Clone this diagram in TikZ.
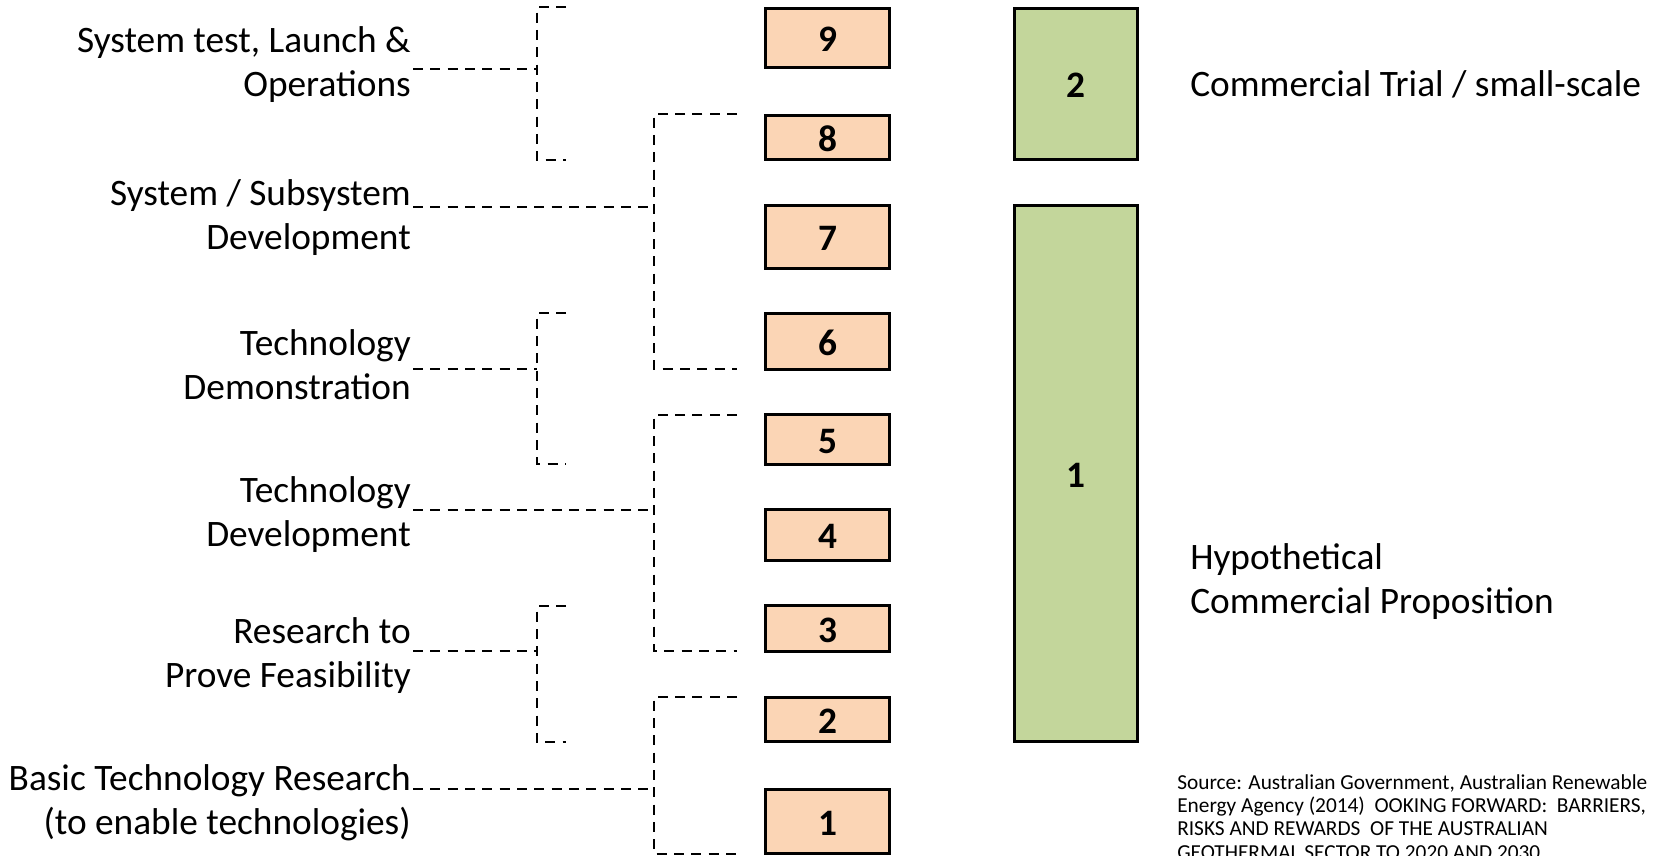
\documentclass[tikz,border=0pt]{standalone}
\usepackage{fontspec}
\setmainfont{Carlito}
\definecolor{peach}{HTML}{FBD5B5}
\definecolor{sage}{HTML}{C3D69B}
% right- and left-aligned line stacks, aligned on the first line's baseline
\newcommand\rstack[1]{\begin{tabular}[t]{@{}r@{}}#1\end{tabular}}
\newcommand\lstack[1]{\begin{tabular}[t]{@{}l@{}}#1\end{tabular}}
\begin{document}
\begin{tikzpicture}[x=0.75pt,y=-0.75pt,
  levelbox/.style={draw=black,line width=2.25pt,inner sep=0pt,
    text height=20.5pt,text depth=0pt,
    font=\bfseries\fontsize{28}{33}\selectfont},
  trlbox/.style={levelbox,fill=peach,minimum width=93pt},
  crlbox/.style={levelbox,fill=sage,minimum width=92.25pt},
  stagelbl/.style={inner sep=0pt,anchor=base east,font=\fontsize{28}{33}\selectfont},
  crllbl/.style={inner sep=0pt,anchor=base west,font=\fontsize{28}{33}\selectfont},
  srclbl/.style={inner sep=0pt,anchor=base west,font=\fontsize{16}{17.5}\selectfont},
  dashln/.style={line width=1.75pt,dash pattern=on 7.5pt off 5.5pt},
]
\useasboundingbox (0,0) rectangle (1654,856);

% technology readiness levels
\node[trlbox,minimum height=59*0.75pt] (t9) at (827.5,38)    {9};
\node[trlbox,minimum height=44*0.75pt] (t8) at (827.5,137.5) {8};
\node[trlbox,minimum height=63*0.75pt] (t7) at (827.5,237)   {7};
\node[trlbox,minimum height=56*0.75pt] (t6) at (827.5,341.5) {6};
\node[trlbox,minimum height=50*0.75pt] (t5) at (827.5,439.5) {5};
\node[trlbox,minimum height=51*0.75pt] (t4) at (827.5,535)   {4};
\node[trlbox,minimum height=46*0.75pt] (t3) at (827.5,628.5) {3};
\node[trlbox,minimum height=44*0.75pt] (t2) at (827.5,719.5) {2};
\node[trlbox,minimum height=64*0.75pt] (t1) at (827.5,821.5) {1};

% commercial readiness levels
\node[crlbox,minimum height=151*0.75pt] (c2) at (1076,84)    {2};
\node[crlbox,minimum height=536*0.75pt] (c1) at (1076,473.5) {1};

\node[crllbl] (c2l) at (1190,97) {Commercial Trial / small-scale};
\node[crllbl] (c1l) at (1190,569) {\lstack{Hypothetical\\Commercial Proposition}};

% stage labels
\node[stagelbl] (sA) at (411,53)  {\rstack{System test, Launch \&\\Operations}};
\node[stagelbl] (sB) at (411,205) {\rstack{System / Subsystem\\Development}};
\node[stagelbl] (sC) at (411,355) {\rstack{Technology\\Demonstration}};
\node[stagelbl] (sD) at (411,502) {\rstack{Technology\\Development}};
\node[stagelbl] (sE) at (411,643) {\rstack{Research to\\Prove Feasibility}};
\node[stagelbl] (sF) at (411,790) {\rstack{Basic Technology Research\\(to enable technologies)}};

% bracket spines and their joints
\coordinate (jA) at (537,69);  \coordinate (jB) at (654,207);
\coordinate (jC) at (537,369); \coordinate (jD) at (654,510);
\coordinate (jE) at (537,651); \coordinate (jF) at (654,789);

\draw[dashln] (566,7)   -- (537,7)   -- (537,160) -- (566,160);
\draw[dashln] (737,114) -- (654,114) -- (654,369) -- (737,369);
\draw[dashln] (566,313) -- (537,313) -- (537,464) -- (566,464);
\draw[dashln] (737,415) -- (654,415) -- (654,651) -- (737,651);
\draw[dashln] (566,606) -- (537,606) -- (537,742) -- (566,742);
\draw[dashln] (737,697) -- (654,697) -- (654,854) -- (737,854);

% leaders from stage labels to brackets
\draw[dashln] ([xshift=1.5pt]sA.east |- jA) -- (jA);
\draw[dashln] ([xshift=1.5pt]sB.east |- jB) -- (jB);
\draw[dashln] ([xshift=1.5pt]sC.east |- jC) -- (jC);
\draw[dashln] ([xshift=1.5pt]sD.east |- jD) -- (jD);
\draw[dashln] ([xshift=1.5pt]sE.east |- jE) -- (jE);
\draw[dashln] ([xshift=1.5pt]sF.east |- jF) -- (jF);

% source note
\node[srclbl] (src) at (1177,789) {\lstack{Source: Australian Government, Australian Renewable\\
Energy Agency (2014)\ \ OOKING FORWARD:\ \ BARRIERS,\\
RISKS AND REWARDS\ \ OF THE AUSTRALIAN\\
GEOTHERMAL SECTOR TO 2020 AND 2030}};
\end{tikzpicture}
\end{document}
